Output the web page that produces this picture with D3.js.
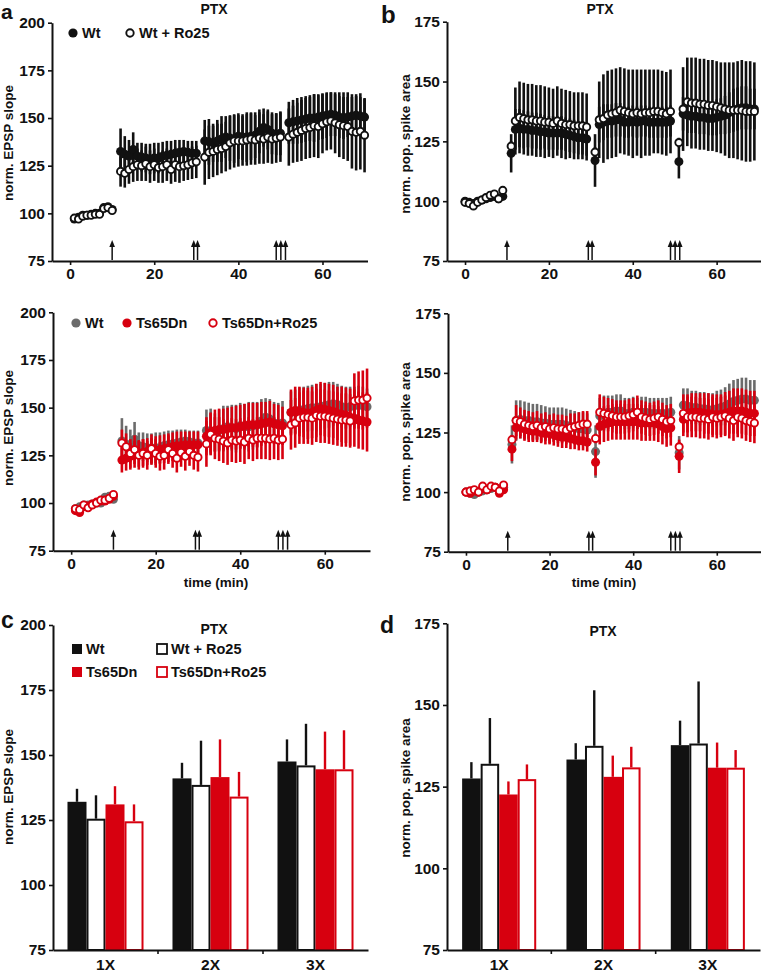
<!DOCTYPE html>
<html lang="en">
<head>
<meta charset="UTF-8">
<title>PTX - EPSP slope and pop. spike</title>
<script src="https://cdn.jsdelivr.net/npm/d3@7/dist/d3.min.js"></script>
<style>
  body { margin: 0; background: #fff; }
  svg text { font-family: "Liberation Sans", Arial, Helvetica, sans-serif; font-weight: bold; fill: #111; }
</style>
</head>
<body>
<svg id="fig" width="761" height="974"></svg>
<script>
// ---- time points (min) ----
const timesA = [1,2,3,4,5,6,7,8,9,10,
  12,13,14,15,16,17,18,19,20,21,22,23,24,25,26,27,28,29,30,
  32,33,34,35,36,37,38,39,40,41,42,43,44,45,46,47,48,49,50,
  52,53,54,55,56,57,58,59,60,61,62,63,64,65,66,67,68,69,70];
const timesB = [0,1,2,3,4,5,6,7,8,9, 11,
  12,13,14,15,16,17,18,19,20,21,22,23,24,25,26,27,28,29, 31,
  32,33,34,35,36,37,38,39,40,41,42,43,44,45,46,47,48,49, 51,
  52,53,54,55,56,57,58,59,60,61,62,63,64,65,66,67,68,69];
const tetanusTimes = [10, 29.4, 30.3, 49, 50.1, 51.2];

// ---- norm. EPSP slope (panel a) ----
const wtEpsp = [97,98,99,99,99.5,100,100,103,103.5,102,
  132.5,131,130,133.5,130,129.5,129,128.5,129,129,130,130.5,131,131.5,132,132.5,132,131.5,131.5,
  138,137.5,137,138,139,140,139.5,139,140.5,140,140,140.5,141,143,145,144,142,141.5,142,
  147.5,148,148.5,149,149.5,150,150,150.5,151,151.5,152,151.5,150.5,150,150.5,151,151.5,151,150.5];
const wtEpspErr = [1,1,1,1,1,1,1,1,1,1,
  12,9.5,8.5,9,7,7.5,7.5,8,8,8,7.5,7.5,7,7,6.5,6,6,6.5,6.5,
  11,12,10,11,12,11,12,12.5,12,12,13,12.5,12,11.5,10,10.5,11,11,11.5,
  11,11.5,12,12,12,12,12.5,12,12,12,11.5,11,11,11,10.5,10,10,10,9.5];
const wtRoEpsp = [97.5,97,98.5,99,99,99.5,99.5,102.5,103,101.5,
  122,121,123,124.5,125.5,125,126,124.5,125.5,124,124.5,125.5,123,125.5,124.5,125,125.5,126.5,127,
  129.5,132,132.5,133.5,134,135,137,138,138,138,138.5,139,138.5,139.5,139,140,139,139.5,140,
  140,141.5,142.5,143.5,144.5,145,146,145.5,147,148,148.5,147.5,146.5,146,145.5,143,142.5,143,141];
const wtRoEpspErr = [1,1,1,1,1,1,1,1,1,1,
  8,7.5,7.5,8,8.5,8,9,8.5,8.5,8,8.5,8.5,7.5,9,8.5,8,8,8.5,8.5,
  14.5,14,13.5,13.5,13,13,14,14,13.5,13,13.5,13.5,13,13.5,13,13.5,13,13,13,
  15,15,15.5,16,16,16,16.5,16.5,15.5,15,15,16,17,17.5,18,19.5,20,20,19.5];
const tsEpsp = [96,95,98,98.5,99.5,100.5,101,101,102,103.5,
  122.5,123.5,124.5,125.5,126,126.5,127,127,127.5,128,128.5,129,129.5,130,130,130.5,130.5,130.5,130.5,
  135,137,138,138.5,138.5,139,139.5,139.5,140,140.5,141,141,141,141.5,142,142.5,141.5,141,140.5,
  147.5,148.5,148,147.5,147,147.5,148.5,149.5,149,148.5,148,147,146.5,146,145,144.5,143.5,143,142.5];
const tsEpspErr = [1,1,1,1,1,1,1,1,1,1,
  6.5,6.5,7,7,7,7,7,7,7.5,7.5,7.5,7.5,7.5,7.5,7.5,7,7,7,7,
  10,10.5,11,11,11,11,11,11.5,11.5,11.5,11.5,11.5,11.5,11.5,11,11,10.5,10.5,10,
  12,12.5,13,13,13.5,13.5,14,14,14,14,14,14,14.5,14.5,15,15,15,15,15.5];
const tsRoEpsp = [97,96.5,99,97.5,99,100,101.5,101.5,102.5,104.5,
  131.5,129.5,126,128,125,126,125,128.5,126,124.5,125,128,126,123.5,126.5,124.5,127,125,124,
  131,136,134,133.5,132.5,131.5,133,132.5,133,132,134,133,134,134,134,133.5,134,133,133.5,
  141,142,144.5,145,145,144.5,146,145.5,145.5,145,144.5,144,143.5,143.5,143,153.5,154,154,155];
const tsRoEpspErr = [1,1,1,1,1,1,1,1,1,1,
  7,7,7.5,7.5,7.5,7.5,7.5,7.5,7.5,7.5,7.5,7.5,7.5,7.5,7.5,7.5,7.5,7.5,7.5,
  12,11,11,11.5,11.5,11.5,11.5,11.5,11.5,11.5,11,11,11,11,11,11,11,10.5,10.5,
  13,13,13.5,14,14,14,14,14,14,14,14,14,14,14,14,14.5,15,15.5,15.5];

// ---- norm. pop. spike area (panel b) ----
const wtSpike = [100,99.5,99,100,100.5,101,101.5,102,101,102, 120,
  130,130.5,130,130,129.5,129.5,129,129,128.5,128.5,128.5,128.5,128,127.5,127,126.5,126.5,126, 117,
  132,133,133.5,133.5,134,134,133,133,133.5,133,133.5,133.5,133,133,133,133,133,133.5, 116.5,
  136.5,136,135.5,135.5,135,135,134.5,134.5,135,135.5,136,137,138,138.5,139,139,138.5,138.5];
const wtSpikeErr = [1,1,1,1,1,1,1,1,1,1, 8,
  8.5,8,8,7.5,7.5,7.5,7.5,7,7,7,7,7,7,7,7,7,7,7, 11,
  7.5,7.5,7,7,7,7,6.5,6.5,6.5,6.5,6.5,6.5,6.5,6.5,6.5,6.5,6.5,6.5, 7,
  7,7.5,7,7,7,7,7,7,7.5,7.5,8,8.5,9,9,9,9,8.5,8.5];
const wtRoSpike = [99.5,99,98,99.5,100.5,101.5,102.5,103,101,104.5, 123,
  133.5,135,134.5,134,134,133.5,133.5,133,133,132.5,133.5,132.5,132,132,131.5,131.5,131.5,131, 120.5,
  134,134.5,136,136.5,137,138,137.5,137,136.5,137,136.5,137,137,137.5,137.5,137,136.5,137.5, 124.5,
  138.5,141.5,141,141,140.5,140.5,140,140,139.5,139,138.5,138,138,138,138,137.5,137.5,137.5];
const wtRoSpikeErr = [1,1,1,1,1,1,1,1,1,1, 2,
  14,15,15,15,15,15,15,15,14.5,14.5,14.5,14.5,14.5,14,14,14,14,14, 2,
  16,18.5,18.5,18.5,18.5,18,18,18,18.5,18,18.5,18,18,17.5,17.5,17.5,17.5,17.5, 2,
  17.5,18.5,19,19,19,19,19,19,19,19,19.5,20,20,20.5,21,21,21,20.5];
const tsSpike = [100,99.5,100.5,100,101.5,101,102,102,99.5,101, 118,
  127,127.5,126.5,126,125.5,125.5,125,124.5,124.5,124,123.5,123,123,122.5,122,121.5,121.5,121, 112.5,
  127.5,128.5,129,129.5,129.5,129.5,129.5,129.5,129.5,129.5,129,129,129,129,128.5,127.5,126.5,127, 115,
  130.5,133,133.5,133.5,133.5,133,133,132.5,132.5,132.5,133,133.5,134,134,134,133.5,133,133];
const tsSpikeErr = [1,1,1,1,1,1,1,1,1,1, 5,
  5,5,5,5,4.5,4.5,4.5,4.5,4.5,4.5,4.5,4.5,4.5,4.5,4,4,4,4, 5.5,
  7.5,7.5,7.5,7.5,7.5,7.5,7.5,7.5,7.5,7.5,7.5,7.5,7.5,7.5,7.5,7.5,7.5,7.5, 7,
  7,8,8,8,8,8.5,8.5,8.5,8.5,8.5,9,9,9.5,9.5,9.5,9.5,9.5,9.5];
const tsRoSpike = [100,100.5,101,100,102.5,101,102.5,102,100.5,103, 122,
  130,129.5,128.5,128,127.5,128,127,127.5,126.5,127,126.5,126.5,126,127,127.5,128,128.5,128.5, 122.5,
  133.5,133,132.5,132,131.5,131.5,131.5,132,132.5,133.5,131.5,131,130.5,131,131.5,130.5,129.5,130, 119,
  133,131.5,131.5,131.5,131,131,130.5,131.5,131,131.5,132,131,130,131.5,131,130,129.5,129];
const tsRoSpikeErr = [1,1,1,1,1,1,1,1,1,1, 2,
  6.5,6,6,6,6,6,6,6,6,6,6,6,6,6,5.5,5.5,5.5,5.5, 2,
  7.5,7,7,7,7,7,7,7,7,7,7,7,7,7,7,7,7,7, 2,
  8,8.5,8.5,8.5,8.5,8.5,8.5,8.5,8.5,8.5,8.5,8.5,8.5,8.5,8.5,8.5,8.5,8.5];

// ---- bar summaries (c, d) ----
const stimGroups = ["1X", "2X", "3X"];
const epspWt = [132, 141, 147.5],     epspWtErr = [5, 6, 8.5];
const epspWtRo = [125.5, 138.5, 146], epspWtRoErr = [9, 17, 16];
const epspTs = [131, 141.5, 144.5],   epspTsErr = [7, 14.5, 14.5];
const epspTsRo = [124.5, 134, 144.5], epspTsRoErr = [6.5, 9.5, 15];
const spikeWt = [127.5, 133.3, 137.7],   spikeWtErr = [5, 5, 7.5];
const spikeWtRo = [132, 137.5, 138.2],   spikeWtRoErr = [14, 17, 19];
const spikeTs = [122.6, 128, 130.8],     spikeTsErr = [4, 6.5, 7.7];
const spikeTsRo = [127.3, 130.9, 130.8], spikeTsRoErr = [4.5, 6.3, 5.4];

const RED = "#d7000f", GREY = "#6b6b6b", BLACK = "#111";
const svg = d3.select("#fig");

function styleAxis(sel) {
  sel.select(".domain").attr("stroke", BLACK).attr("stroke-width", 2);
  sel.selectAll(".tick line").attr("stroke", BLACK).attr("stroke-width", 1.6);
  sel.selectAll(".tick text").attr("font-size", 15.5).attr("font-family", null).attr("fill", BLACK);
}

function yLabel(text, x, y) {
  svg.append("text").attr("transform", `translate(${x},${y}) rotate(-90)`)
    .attr("text-anchor", "middle").attr("font-size", 13.5).text(text);
}

function timePanel(cfg) {
  const x = d3.scaleLinear().domain([-4.3, 70.7]).range([cfg.left, cfg.right]);
  const y = d3.scaleLinear().domain(cfg.yDomain).range([cfg.bottom, cfg.top]);
  const g = svg.append("g");

  // stimulation arrows
  const arrows = g.append("g");
  arrows.selectAll("line").data(tetanusTimes).join("line")
    .attr("x1", d => x(d)).attr("x2", d => x(d))
    .attr("y1", cfg.bottom - 1).attr("y2", cfg.bottom - 16)
    .attr("stroke", BLACK).attr("stroke-width", 1.5);
  arrows.selectAll("path").data(tetanusTimes).join("path")
    .attr("d", d => `M${x(d) - 2.8},${cfg.bottom - 14} L${x(d)},${cfg.bottom - 21} L${x(d) + 2.8},${cfg.bottom - 14} Z`)
    .attr("fill", BLACK);

  const layers = d3.groups(cfg.series, s => s.layer);
  layers.forEach(([, list]) => {
    list.forEach(s => {
      const pts = s.mean.map((m, i) => ({ t: cfg.times[i], m, e: s.err[i] }));
      g.append("g").selectAll("line").data(pts).join("line")
        .attr("x1", d => x(d.t)).attr("x2", d => x(d.t))
        .attr("y1", d => y(d.m - d.e)).attr("y2", d => y(d.m + d.e))
        .attr("stroke", s.color).attr("stroke-width", 2.6);
    });
    list.forEach(s => {
      const pts = s.mean.map((m, i) => ({ t: cfg.times[i], m }));
      g.append("g").selectAll("circle").data(pts).join("circle")
        .attr("cx", d => x(d.t)).attr("cy", d => y(d.m))
        .attr("r", s.open ? 3.6 : 4.5)
        .attr("fill", s.open ? "#fff" : s.color)
        .attr("stroke", s.color).attr("stroke-width", s.open ? 1.9 : 0);
    });
  });

  g.append("g").attr("transform", `translate(${cfg.left},0)`)
    .call(d3.axisLeft(y).tickValues(cfg.yTicks).tickSize(4).tickSizeOuter(0).tickPadding(3))
    .call(styleAxis);
  g.append("g").attr("transform", `translate(0,${cfg.bottom})`)
    .call(d3.axisBottom(x).tickValues([0, 20, 40, 60]).tickSize(4).tickSizeOuter(0).tickPadding(3))
    .call(styleAxis);

  // legend
  cfg.legend.forEach(l => {
    g.append("circle").attr("cx", l.x).attr("cy", l.y).attr("r", l.open ? 3.7 : 4.6)
      .attr("fill", l.open ? "#fff" : l.color).attr("stroke", l.color)
      .attr("stroke-width", l.open ? 1.9 : 0);
    g.append("text").attr("x", l.x + 9).attr("y", l.y + 5).attr("font-size", 14.5).text(l.label);
  });
}

function barPanel(cfg) {
  const x = d3.scaleBand().domain(stimGroups).range([cfg.left, cfg.right])
    .paddingInner(cfg.padIn).paddingOuter(cfg.padIn / 2);
  const xs = d3.scaleBand().domain(cfg.series.map(s => s.key)).range([0, x.bandwidth()]);
  const y = d3.scaleLinear().domain(cfg.yDomain).range([cfg.bottom, cfg.top]);
  const g = svg.append("g");

  cfg.series.forEach(s => {
    const rows = stimGroups.map((k, i) => ({ k, v: s.mean[i], e: s.err[i] }));
    const sg = g.append("g");
    sg.selectAll("line").data(rows).join("line")
      .attr("x1", d => x(d.k) + xs(s.key) + xs.bandwidth() / 2)
      .attr("x2", d => x(d.k) + xs(s.key) + xs.bandwidth() / 2)
      .attr("y1", d => y(d.v)).attr("y2", d => y(d.v + d.e))
      .attr("stroke", s.color).attr("stroke-width", 2.4);
    sg.selectAll("rect").data(rows).join("rect")
      .attr("x", d => x(d.k) + xs(s.key) + (s.open ? 1 : 0))
      .attr("y", d => y(d.v) + (s.open ? 1 : 0))
      .attr("width", xs.bandwidth() - (s.open ? 2 : 0))
      .attr("height", d => cfg.bottom - y(d.v) - (s.open ? 1 : 0))
      .attr("fill", s.open ? "#fff" : s.color)
      .attr("stroke", s.open ? s.color : "none").attr("stroke-width", 2);
  });

  g.append("g").attr("transform", `translate(${cfg.left},0)`)
    .call(d3.axisLeft(y).tickValues(cfg.yTicks).tickSize(4).tickSizeOuter(0).tickPadding(3))
    .call(styleAxis);
  const xa = g.append("g").attr("transform", `translate(0,${cfg.bottom})`)
    .call(d3.axisBottom(x).tickSize(0).tickSizeOuter(0).tickPadding(9))
    .call(styleAxis);
  // separators between stimulation groups
  xa.selectAll(".sep").data(stimGroups.slice(1)).join("line")
    .attr("x1", d => x(d) - x.step() * x.paddingInner() / 2)
    .attr("x2", d => x(d) - x.step() * x.paddingInner() / 2)
    .attr("y1", 0).attr("y2", 4).attr("stroke", BLACK).attr("stroke-width", 1.6);

  (cfg.legend || []).forEach(l => {
    g.append("rect").attr("x", l.x).attr("y", l.y - 5).attr("width", 10).attr("height", 10)
      .attr("fill", l.open ? "#fff" : l.color).attr("stroke", l.open ? l.color : "none")
      .attr("stroke-width", 1.8);
    g.append("text").attr("x", l.x + 14).attr("y", l.y + 5).attr("font-size", 14.5).text(l.label);
  });
}

// ---- a (top) ----
timePanel({ left: 52, right: 367.5, top: 22.7, bottom: 261, yDomain: [75, 200],
  yTicks: [75, 100, 125, 150, 175, 200], times: timesA,
  series: [
    { mean: wtEpsp, err: wtEpspErr, color: BLACK, open: false, layer: 0 },
    { mean: wtRoEpsp, err: wtRoEpspErr, color: BLACK, open: true, layer: 0 }],
  legend: [{ x: 73, y: 33, color: BLACK, label: "Wt" },
           { x: 130, y: 33, color: BLACK, open: true, label: "Wt + Ro25" }] });

// ---- b (top) ----
timePanel({ left: 447, right: 761.5, top: 21.7, bottom: 261, yDomain: [75, 175],
  yTicks: [75, 100, 125, 150, 175], times: timesB,
  series: [
    { mean: wtSpike, err: wtSpikeErr, color: BLACK, open: false, layer: 0 },
    { mean: wtRoSpike, err: wtRoSpikeErr, color: BLACK, open: true, layer: 0 }],
  legend: [] });

// ---- a (bottom) ----
timePanel({ left: 53, right: 370, top: 312.3, bottom: 550.7, yDomain: [75, 200],
  yTicks: [75, 100, 125, 150, 175, 200], times: timesA,
  series: [
    { mean: wtEpsp, err: wtEpspErr, color: GREY, open: false, layer: 0 },
    { mean: tsEpsp, err: tsEpspErr, color: RED, open: false, layer: 1 },
    { mean: tsRoEpsp, err: tsRoEpspErr, color: RED, open: true, layer: 1 }],
  legend: [{ x: 76, y: 323, color: GREY, label: "Wt" },
           { x: 127, y: 323, color: RED, label: "Ts65Dn" },
           { x: 213, y: 323, color: RED, open: true, label: "Ts65Dn+Ro25" }] });

// ---- b (bottom) ----
timePanel({ left: 448, right: 761.5, top: 313.3, bottom: 551.7, yDomain: [75, 175],
  yTicks: [75, 100, 125, 150, 175], times: timesB,
  series: [
    { mean: wtSpike, err: wtSpikeErr, color: GREY, open: false, layer: 0 },
    { mean: tsSpike, err: tsSpikeErr, color: RED, open: false, layer: 1 },
    { mean: tsRoSpike, err: tsRoSpikeErr, color: RED, open: true, layer: 1 }],
  legend: [] });

// ---- c ----
barPanel({ left: 53, right: 368, top: 625, bottom: 950, yDomain: [75, 200], padIn: 0.276,
  yTicks: [75, 100, 125, 150, 175, 200],
  series: [
    { key: "wt", mean: epspWt, err: epspWtErr, color: BLACK },
    { key: "wtro", mean: epspWtRo, err: epspWtRoErr, color: BLACK, open: true },
    { key: "ts", mean: epspTs, err: epspTsErr, color: RED },
    { key: "tsro", mean: epspTsRo, err: epspTsRoErr, color: RED, open: true }],
  legend: [{ x: 72, y: 649, color: BLACK, label: "Wt" },
           { x: 157, y: 649, color: BLACK, open: true, label: "Wt + Ro25" },
           { x: 72, y: 672, color: RED, label: "Ts65Dn" },
           { x: 157, y: 672, color: RED, open: true, label: "Ts65Dn+Ro25" }] });

// ---- d ----
barPanel({ left: 447, right: 760, top: 623.3, bottom: 950, yDomain: [75, 175], padIn: 0.29,
  yTicks: [75, 100, 125, 150, 175],
  series: [
    { key: "wt", mean: spikeWt, err: spikeWtErr, color: BLACK },
    { key: "wtro", mean: spikeWtRo, err: spikeWtRoErr, color: BLACK, open: true },
    { key: "ts", mean: spikeTs, err: spikeTsErr, color: RED },
    { key: "tsro", mean: spikeTsRo, err: spikeTsRoErr, color: RED, open: true }] });

// ---- texts ----
yLabel("norm. EPSP slope", 13, 143);
yLabel("norm. pop. spike area", 410, 144);
yLabel("norm. EPSP slope", 13, 428);
yLabel("norm. pop. spike area", 410, 432);
yLabel("norm. EPSP slope", 13, 787);
yLabel("norm. pop. spike area", 410, 788);

[[214, 14], [600, 14], [214, 634], [603, 636]].forEach(([x, y]) =>
  svg.append("text").attr("x", x).attr("y", y).attr("text-anchor", "middle").attr("font-size", 14).text("PTX"));
[[216, 587], [604, 587]].forEach(([x, y]) =>
  svg.append("text").attr("x", x).attr("y", y).attr("text-anchor", "middle").attr("font-size", 13.5).text("time (min)"));
[["a", 1, 19, 21], ["b", 381, 23, 24], ["c", 1, 628, 23], ["d", 380, 633, 23]].forEach(([t, x, y, fs]) =>
  svg.append("text").attr("x", x).attr("y", y).attr("font-size", fs).text(t));
</script>
</body>
</html>
